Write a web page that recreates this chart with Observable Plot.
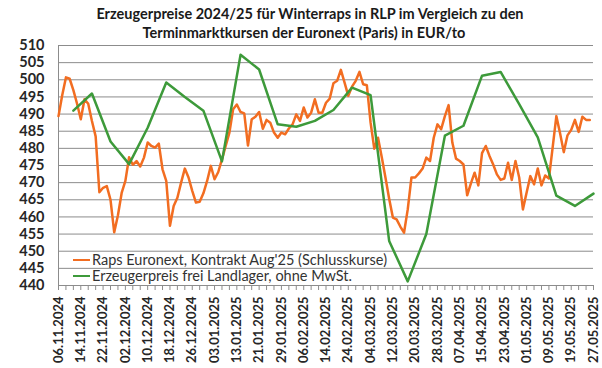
<!DOCTYPE html>
<html>
<head>
<meta charset="utf-8">
<script src="https://cdn.jsdelivr.net/npm/d3@7"></script>
<script src="https://cdn.jsdelivr.net/npm/@observablehq/plot@0.6"></script>
<style>
  html, body { margin: 0; padding: 0; background: #fff; }
  #wrap { position: relative; width: 602px; height: 368px; overflow: hidden; font-family: Lato, "Liberation Sans", sans-serif; }
  .title { position: absolute; width: 600px; text-align: center; font-weight: bold; font-size: 14.5px; color: #1a1a1a; white-space: nowrap; }
  #legend { position: absolute; left: 73px; top: 252px; font-size: 14.5px; color: #333; }
  #legend div { height: 16px; line-height: 16px; white-space: nowrap; }
  #legend span.sw { display: inline-block; width: 17px; height: 0; border-top: 2.5px solid; vertical-align: middle; margin-right: 2px; position: relative; top: -1px; }
</style>
</head>
<body>
<div id="wrap">
  <div id="chart"></div>
  <div class="title" style="left:10px; top:5px;">Erzeugerpreise 2024/25 für Winterraps in RLP im Vergleich zu den</div>
  <div class="title" style="left:4px; top:24px;">Terminmarktkursen der Euronext (Paris) in EUR/to</div>
  <div id="legend"></div>
</div>
<script>
// x categories: trading days (index 0 = 06.11.2024 ... 144 = 27.05.2025), labelled every 6th day
const tickLabels = ["06.11.2024","14.11.2024","22.11.2024","02.12.2024","10.12.2024","18.12.2024","26.12.2024",
  "03.01.2025","13.01.2025","21.01.2025","29.01.2025","06.02.2025","14.02.2025","24.02.2025","04.03.2025",
  "12.03.2025","20.03.2025","28.03.2025","07.04.2025","15.04.2025","23.04.2025","01.05.2025","09.05.2025",
  "19.05.2025","27.05.2025"];

const seriesNames = ["Raps Euronext, Kontrakt Aug'25 (Schlusskurse)", "Erzeugerpreis frei Landlager, ohne MwSt."];

// Euronext rapeseed, daily closing prices (EUR/t)
const rapsEuronext = [
  489.4,495.5,500.7,500.3,497.0,493.0,488.5,494.3,493.0,488.0,
  483.5,467.2,468.5,469.0,465.0,455.5,460.5,467.0,470.5,477.4,
  475.2,476.3,474.7,477.3,481.7,480.7,480.2,481.4,473.9,470.5,
  457.4,463.2,465.6,470.0,474.1,471.5,467.6,464.2,464.4,466.9,
  470.5,474.9,471.0,473.1,476.8,480.7,484.6,491.4,492.8,490.6,
  490.2,480.8,488.5,489.2,490.6,485.7,488.3,487.5,484.6,483.1,
  484.6,484.1,485.8,487.0,489.9,488.0,491.9,489.0,490.4,494.3,
  490.4,490.4,493.3,494.5,499.0,499.7,502.9,499.2,495.3,498.0,
  499.7,502.3,498.7,498.4,487.5,479.9,483.1,477.5,471.5,465.3,
  459.8,459.3,457.2,455.4,462.2,471.5,471.5,472.7,474.1,477.3,
  476.3,483.1,487.0,485.6,489.4,492.6,481.7,477.0,476.3,475.3,
  466.3,469.8,472.9,469.2,478.6,480.7,477.8,475.3,472.4,470.8,
  471.2,475.8,470.8,476.3,471.5,462.2,467.1,471.9,469.5,474.1,
  469.2,472.1,471.2,480.2,489.4,484.4,478.9,483.8,485.4,488.3,
  484.8,489.2,488.3,488.3
];

// Producer price (weekly, Tuesdays) – day index and value (EUR/t)
const erzDays = [4,9,14,19,24,29,34,39,44,49,54,59,64,69,74,79,84,89,94,99,104,109,114,119,124,129,134,139,144];
const erzVals = [491.0,496.0,482.0,475.4,486.0,499.2,495.0,491.0,476.2,507.3,503.0,487.0,486.3,488.0,491.2,497.7,495.5,
  453.0,441.2,455.0,483.7,486.6,501.2,502.3,492.9,483.2,466.2,463.2,466.8];

const yTicks = [440,445,450,455,460,465,470,475,480,485,490,495,500,505,510];

const colors = ["#f26d21", "#3d9a3a"];

const rapsData = rapsEuronext.map((v, i) => ({day: i, value: v}));
const erzData = erzDays.map((d, k) => ({day: d, value: erzVals[k]}));
const labelDays = tickLabels.map((_, k) => k * 6);
const minorDays = d3.range(0, 145, 2);

const chart = Plot.plot({
  width: 602,
  height: 368,
  marginLeft: 58,
  marginRight: 9,
  marginTop: 45,
  marginBottom: 83,
  x: {domain: [0, 144], axis: null},
  y: {domain: [440, 510], axis: null},
  style: {fontFamily: "Lato, 'Liberation Sans', sans-serif", background: "white", overflow: "visible"},
  marks: [
    Plot.gridY(yTicks, {stroke: "#8c8c8c", strokeOpacity: 1, strokeWidth: 1}),
    Plot.axisY(yTicks, {label: null, tickSize: 0, tickPadding: 14, fontSize: 14.5, fontWeight: "bold", fill: "#262626"}),
    Plot.ruleX([0], {stroke: "#8c8c8c", strokeWidth: 1}),
    Plot.axisX(minorDays, {label: null, tickSize: 5, tickFormat: () => "", stroke: "#8c8c8c"}),
    Plot.axisX(labelDays, {label: null, tickSize: 0, tickPadding: 11, tickRotate: -90,
      tickFormat: d => tickLabels[d / 6], fontSize: 13, fontWeight: "bold", fill: "#262626"}),
    Plot.line(rapsData, {x: "day", y: "value", stroke: colors[0], strokeWidth: 2.5}),
    Plot.line(erzData, {x: "day", y: "value", stroke: colors[1], strokeWidth: 2.5})
  ]
});
document.getElementById("chart").appendChild(chart);

const legend = document.getElementById("legend");
seriesNames.forEach((name, k) => {
  const row = document.createElement("div");
  const sw = document.createElement("span");
  sw.className = "sw";
  sw.style.borderTopColor = colors[k];
  row.appendChild(sw);
  row.appendChild(document.createTextNode(name));
  legend.appendChild(row);
});
</script>
</body>
</html>
